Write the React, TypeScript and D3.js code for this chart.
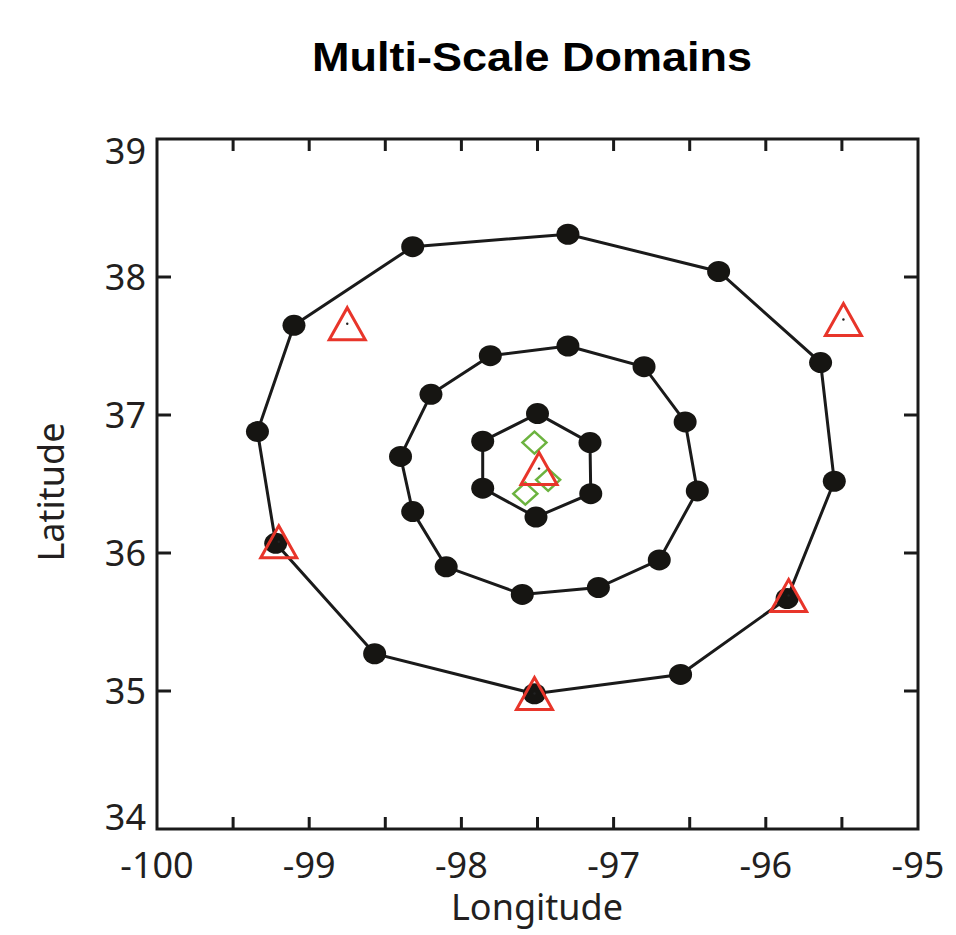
import React, { useEffect, useRef } from 'react';
import * as d3 from 'd3';

// outer ring of domain centers (lon, lat)
const outerLon = [-98.32, -97.3, -96.31, -95.64, -95.55, -95.86, -96.56, -97.52, -98.57, -99.22, -99.34, -99.1];
const outerLat = [38.22, 38.31, 38.04, 37.38, 36.52, 35.67, 35.12, 34.98, 35.27, 36.07, 36.88, 37.65];

const middleLon = [-97.3, -96.8, -96.53, -96.45, -96.7, -97.1, -97.6, -98.1, -98.32, -98.4, -98.2, -97.81];
const middleLat = [37.5, 37.35, 36.95, 36.45, 35.95, 35.75, 35.7, 35.9, 36.3, 36.7, 37.15, 37.43];

const innerLon = [-97.5, -97.155, -97.15, -97.51, -97.86, -97.86];
const innerLat = [37.01, 36.8, 36.43, 36.26, 36.47, 36.81];

// radar sites
const radarLon = [-97.49, -98.75, -95.49, -99.2, -97.52, -95.85];
const radarLat = [36.59, 37.64, 37.67, 36.06, 34.96, 35.67];

// profilers
const diamondLon = [-97.52, -97.43, -97.58];
const diamondLat = [36.8, 36.53, 36.43];

const xTicks = [-100, -99, -98, -97, -96, -95];
const yTicks = [34, 35, 36, 37, 38, 39];

const App = () => {
  const svgRef = useRef<SVGSVGElement>(null);

  useEffect(() => {
    const width = 956;
    const height = 935;
    const left = 157, right = 918, top = 139, bottom = 829;
    const font = "'Noto Sans', 'Open Sans', sans-serif";

    const svg = d3.select(svgRef.current);
    svg.selectAll('*').remove();
    svg.attr('width', width).attr('height', height);

    svg.append('rect').attr('width', width).attr('height', height).attr('fill', '#fff');

    const x = d3.scaleLinear().domain([-100, -95]).range([left, right]);
    const y = d3.scaleLinear().domain([34, 39]).range([bottom, top]);

    svg.append('text')
      .attr('x', 532).attr('y', 71)
      .attr('text-anchor', 'middle')
      .attr('font-family', 'Arial, Liberation Sans, sans-serif')
      .attr('font-weight', 'bold')
      .attr('font-size', 40)
      .attr('textLength', 440)
      .attr('lengthAdjust', 'spacingAndGlyphs')
      .text('Multi-Scale Domains');

    // ticks (inward)
    const halfTicks = d3.range(-99.5, -95, 0.5);
    const g = svg.append('g').attr('stroke', '#1a1a1a').attr('stroke-width', 3);
    halfTicks.forEach(t => {
      g.append('line').attr('x1', x(t)).attr('x2', x(t)).attr('y1', bottom).attr('y2', bottom - 12);
      g.append('line').attr('x1', x(t)).attr('x2', x(t)).attr('y1', top).attr('y2', top + 12);
    });
    yTicks.slice(1, -1).forEach(t => {
      g.append('line').attr('x1', left).attr('x2', left + 14).attr('y1', y(t)).attr('y2', y(t));
      g.append('line').attr('x1', right).attr('x2', right - 14).attr('y1', y(t)).attr('y2', y(t));
    });
    svg.append('rect')
      .attr('x', left).attr('y', top)
      .attr('width', right - left).attr('height', bottom - top)
      .attr('fill', 'none').attr('stroke', '#1a1a1a').attr('stroke-width', 3);

    svg.append('g').selectAll('text').data(xTicks).enter().append('text')
      .attr('x', d => x(d)).attr('y', 878)
      .attr('text-anchor', 'middle')
      .attr('font-family', font).attr('font-size', 36).attr('fill', '#231f20')
      .text(d => String(d));

    // end labels are kept inside the axis span
    svg.append('g').selectAll('text').data(yTicks).enter().append('text')
      .attr('x', 146)
      .attr('y', d => d === 39 ? y(d) + 25 : d === 34 ? y(d) + 1 : y(d) + 13)
      .attr('text-anchor', 'end')
      .attr('font-family', font).attr('font-size', 36).attr('fill', '#231f20')
      .text(d => String(d));

    svg.append('text')
      .attr('x', 537).attr('y', 920)
      .attr('text-anchor', 'middle')
      .attr('font-family', font).attr('font-size', 36).attr('fill', '#231f20')
      .text('Longitude');

    svg.append('text')
      .attr('transform', `translate(64,${(top + bottom) / 2 + 8}) rotate(-90)`)
      .attr('text-anchor', 'middle')
      .attr('font-family', font).attr('font-size', 36).attr('fill', '#231f20')
      .text('Latitude');

    const line = d3.line<[number, number]>()
      .x(d => x(d[0])).y(d => y(d[1]))
      .curve(d3.curveLinearClosed);

    const rings = [
      d3.zip(outerLon, outerLat) as [number, number][],
      d3.zip(middleLon, middleLat) as [number, number][],
      d3.zip(innerLon, innerLat) as [number, number][],
    ];

    rings.forEach(pts => {
      svg.append('path')
        .attr('d', line(pts))
        .attr('fill', 'none')
        .attr('stroke', '#1a1a1a')
        .attr('stroke-width', 3);
      svg.append('g').selectAll('ellipse').data(pts).enter().append('ellipse')
        .attr('cx', d => x(d[0])).attr('cy', d => y(d[1]))
        .attr('rx', 11.5).attr('ry', 10.5)
        .attr('fill', '#161512');
    });

    // green diamonds
    const diamond = 'M0,-11 L12,0 L0,11 L-12,0 Z';
    svg.append('g').selectAll('path').data(d3.zip(diamondLon, diamondLat)).enter().append('path')
      .attr('transform', d => `translate(${x(d[0])},${y(d[1])})`)
      .attr('d', diamond)
      .attr('fill', 'none')
      .attr('stroke', '#6cb33f')
      .attr('stroke-width', 2.5);

    // red triangles
    const tri = 'M0,-19 L18,13 L-18,13 Z';
    const radar = svg.append('g').selectAll('g').data(d3.zip(radarLon, radarLat)).enter().append('g')
      .attr('transform', d => `translate(${x(d[0])},${y(d[1])})`);
    radar.append('path')
      .attr('d', tri)
      .attr('fill', 'none')
      .attr('stroke', '#e8352a')
      .attr('stroke-width', 3);
    radar.append('circle')
      .attr('cx', 0).attr('cy', -3).attr('r', 1.2)
      .attr('fill', '#222');
  }, []);

  return <svg ref={svgRef} style={{ display: 'block', position: 'absolute', left: 0, top: 0 }}></svg>;
};

export default App;
